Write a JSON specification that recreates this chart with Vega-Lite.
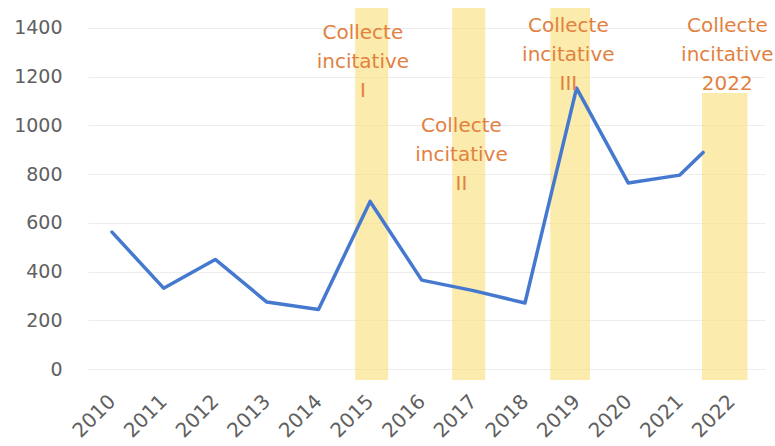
{
  "$schema": "https://vega.github.io/schema/vega-lite/v6.json",
  "width": 677,
  "height": 372,
  "autosize": "none",
  "padding": {"left": 88, "top": 8, "right": 10, "bottom": 66},
  "background": "white",
  "config": {"view": {"stroke": null}, "font": "DejaVu Sans"},
  "datasets": {
    "series": [
      {"year": 2010, "value": 562},
      {"year": 2011, "value": 332},
      {"year": 2012, "value": 450},
      {"year": 2013, "value": 275},
      {"year": 2014, "value": 244},
      {"year": 2015, "value": 688},
      {"year": 2016, "value": 365},
      {"year": 2017, "value": 322},
      {"year": 2018, "value": 271},
      {"year": 2019, "value": 1153},
      {"year": 2020, "value": 764},
      {"year": 2021, "value": 796},
      {"year": 2021.45, "value": 889}
    ],
    "bands": [
      {"name": "I", "start": 2014.71, "end": 2015.35, "low": -45, "high": 1482},
      {"name": "II", "start": 2016.59, "end": 2017.23, "low": -45, "high": 1482},
      {"name": "III", "start": 2018.49, "end": 2019.26, "low": -45, "high": 1482},
      {"name": "2022", "start": 2021.43, "end": 2022.31, "low": -45, "high": 1133}
    ],
    "notes": [
      {"x": 2014.86, "y": 1355, "label": "Collecte\nincitative\nI"},
      {"x": 2016.77, "y": 973, "label": "Collecte\nincitative\nII"},
      {"x": 2018.84, "y": 1383, "label": "Collecte\nincitative\nIII"},
      {"x": 2021.92, "y": 1383, "label": "Collecte\nincitative\n2022"}
    ]
  },
  "layer": [
    {
      "data": {"name": "bands"},
      "mark": {"type": "rect", "color": "#F8DE74", "opacity": 0.6},
      "encoding": {
        "x": {
          "field": "start", "type": "quantitative",
          "scale": {"domain": [2009.535, 2022.65], "nice": false, "zero": false},
          "axis": {
            "title": null, "values": [2010, 2011, 2012, 2013, 2014, 2015, 2016, 2017, 2018, 2019, 2020, 2021, 2022],
            "format": "d", "labelAngle": -45, "labelAlign": "right", "labelBaseline": "middle",
            "labelPadding": 18, "labelFontSize": 20, "labelColor": "#606060",
            "domain": false, "ticks": false, "grid": false, "labelFlush": false, "labelOverlap": false
          }
        },
        "x2": {"field": "end"},
        "y": {
          "field": "low", "type": "quantitative",
          "scale": {"domain": [-45, 1482], "nice": false, "zero": false},
          "axis": {
            "title": null, "values": [0, 200, 400, 600, 800, 1000, 1200, 1400], "format": "d",
            "labelFontSize": 19, "labelColor": "#606060", "labelPadding": 26,
            "domain": false, "ticks": false, "grid": true, "gridColor": "#EDEDED", "gridWidth": 1
          }
        },
        "y2": {"field": "high"}
      }
    },
    {
      "data": {"name": "series"},
      "mark": {"type": "line", "color": "#4479CF", "strokeWidth": 3.5, "strokeJoin": "round", "strokeCap": "round"},
      "encoding": {
        "x": {"field": "year", "type": "quantitative"},
        "y": {"field": "value", "type": "quantitative"}
      }
    },
    {
      "data": {"name": "notes"},
      "mark": {"type": "text", "align": "center", "baseline": "alphabetic", "lineBreak": "\n", "lineHeight": 29, "fontSize": 20, "color": "#E2813F"},
      "encoding": {
        "x": {"field": "x", "type": "quantitative"},
        "y": {"field": "y", "type": "quantitative"},
        "text": {"field": "label"}
      }
    }
  ]
}
